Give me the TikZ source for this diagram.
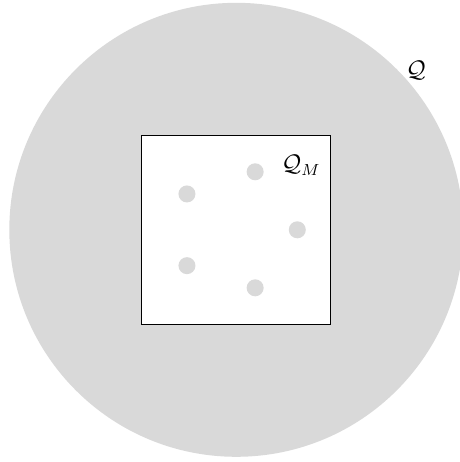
\documentclass[tikz,border=0pt]{standalone}
\usetikzlibrary{calc}
\definecolor{lightregion}{RGB}{217,217,217}
\begin{document}
\begin{tikzpicture}[x=0.5pt,y=-0.5pt,
  region/.style={fill=lightregion, draw=none},
  dotmark/.style={circle, fill=lightregion, draw=none, minimum size=17*0.5pt, inner sep=0pt},
  lbl/.style={inner sep=0pt, font=\large}]
\useasboundingbox (0,0) rectangle (460,462);
\clip (0,0) rectangle (460,462);
\fill[region] (236.3,229.8) circle [radius=227];
\node[draw, fill=white, line width=0.6pt, minimum size=189*0.5pt, inner sep=0pt] (qm) at (236.3,229.8) {};
\foreach \a [count=\i] in {0,72,144,216,288} {
  \node[dotmark] (d\i) at ($(qm.center)+(\a:61)$) {};
}
\node[lbl] (qlabel) at (416,70) {$\mathcal{Q}$};
\node[lbl] (qmlabel) at (301,165) {$\mathcal{Q}_M$};
\end{tikzpicture}
\end{document}
